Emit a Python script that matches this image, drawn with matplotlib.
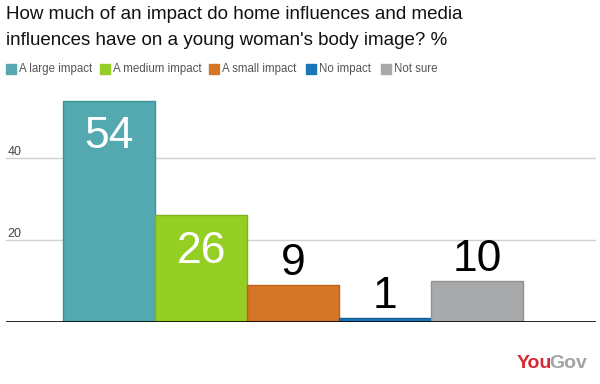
import matplotlib.pyplot as plt

plt.rcParams["font.family"] = ["Liberation Sans", "DejaVu Sans"]

categories = ["A large impact", "A medium impact", "A small impact", "No impact", "Not sure"]
values = [54, 26, 9, 1, 10]
colors = ["#53A9AF", "#95CF24", "#D57527", "#1B76B9", "#A7A9AA"]
edges = ["#3F9297", "#7DB41A", "#B9621E", "#155E96", "#8F9192"]
label_colors = ["white", "white", "black", "black", "black"]
inside = [True, True, False, False, False]
yticks = [20, 40]

fig = plt.figure(figsize=(6, 3.84), dpi=100)
ax = fig.add_axes([6 / 600, 62 / 384, 590 / 600, 232 / 384])

x = list(range(len(values)))
ax.bar(x, values, width=1.0, color=colors, edgecolor=edges, linewidth=1, zorder=3)
ax.set_xlim(-1.12, 5.29)
ax.set_ylim(0, 56.6)

for yt in yticks:
    ax.axhline(yt, color="#D0D0D0", linewidth=1, zorder=1)
    ax.text(0.003, yt, str(yt), transform=ax.get_yaxis_transform(),
            ha="left", va="bottom", fontsize=9, color="#444444")
ax.axhline(0, color="black", linewidth=1.2, zorder=4)

for xi, v, c, ins in zip(x, values, label_colors, inside):
    if ins:
        ax.annotate(str(v), (xi, v), xytext=(0, -11), textcoords="offset points",
                    ha="center", va="top", fontsize=32, color=c, zorder=5)
    else:
        ax.annotate(str(v), (xi, v), xytext=(0, 7), textcoords="offset points",
                    ha="center", va="baseline", fontsize=32, color=c, zorder=5)

ax.set_xticks([])
ax.set_yticks([])
for s in ax.spines.values():
    s.set_visible(False)

title_lines = ["How much of an impact do home influences and media",
               "influences have on a young woman's body image? %"]
for ty, line in zip([19, 45], title_lines):
    fig.text(6 / 600, 1 - ty / 384, line, ha="left", va="baseline",
             fontsize=13.5, color="#111111")

# legend row
leg_x = [6, 100, 209, 306, 381]
for lx, cat, col in zip(leg_x, categories, colors):
    fig.patches.append(plt.Rectangle((lx / 600, 1 - 74 / 384), 10 / 600, 10 / 384,
                                     transform=fig.transFigure, color=col))
    fig.text((lx + 13) / 600, 1 - 69 / 384, cat, ha="left", va="center",
             fontsize=8.3, color="#555555")

# YouGov logo
you = fig.text(517 / 600, 1 - 368 / 384, "You", ha="left", va="baseline",
               fontsize=14, fontweight="bold", color="#D42A32")
fig.canvas.draw()
bb = you.get_window_extent()
fig.text((bb.x1 - 3) / 600, 1 - 368 / 384, "Gov", ha="left", va="baseline",
         fontsize=14, fontweight="bold", color="#A3A3A3")

fig.savefig("out.png", dpi=100)
